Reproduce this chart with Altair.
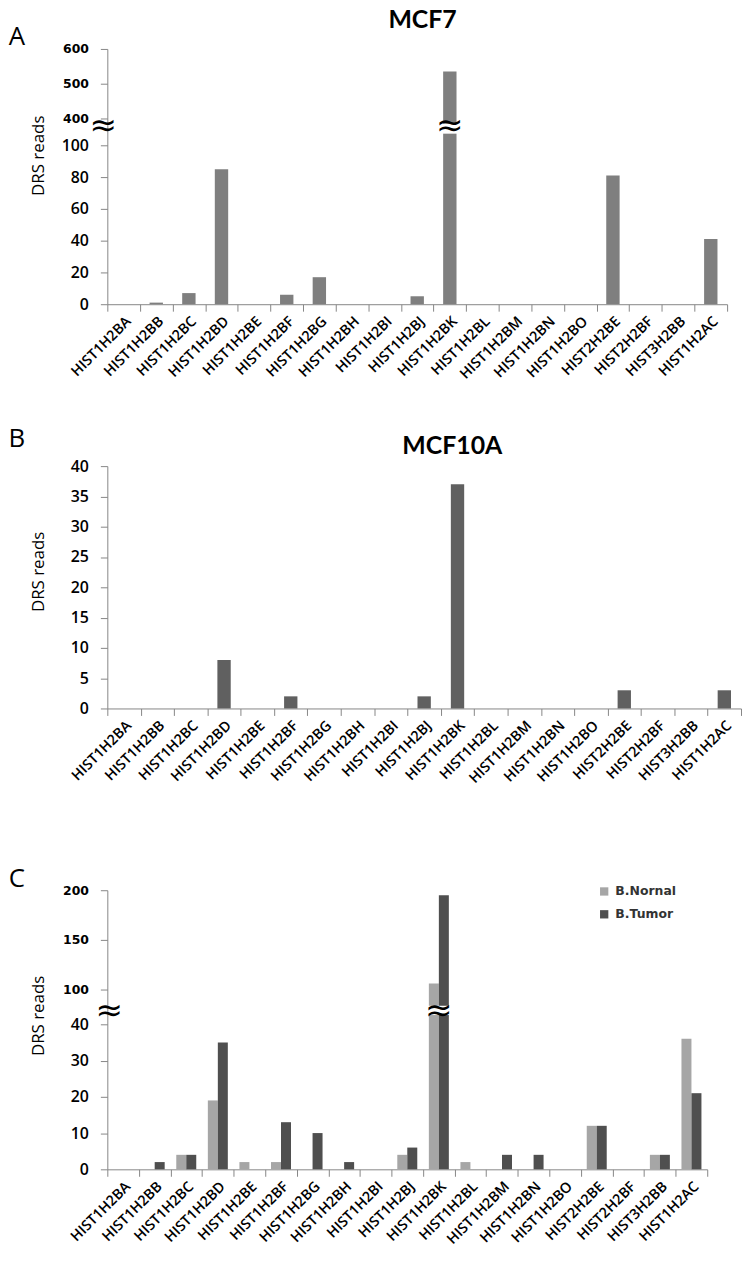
import altair as alt
import pandas as pd

genes = ["HIST1H2BA", "HIST1H2BB", "HIST1H2BC", "HIST1H2BD", "HIST1H2BE",
         "HIST1H2BF", "HIST1H2BG", "HIST1H2BH", "HIST1H2BI", "HIST1H2BJ",
         "HIST1H2BK", "HIST1H2BL", "HIST1H2BM", "HIST1H2BN", "HIST1H2BO",
         "HIST2H2BE", "HIST2H2BF", "HIST3H2BB", "HIST1H2AC"]
mcf7 = [0, 1, 7, 85, 0, 6, 17, 0, 0, 5, 535, 0, 0, 0, 0, 81, 0, 0, 41]
mcf10a = [0, 0, 0, 8, 0, 2, 0, 0, 0, 2, 37, 0, 0, 0, 0, 3, 0, 0, 3]
b_normal = [0, 0, 4, 19, 2, 2, 0, 0, 0, 4, 106, 2, 0, 0, 0, 12, 0, 4, 36]
b_tumor = [0, 2, 4, 35, 0, 13, 10, 2, 0, 6, 195, 0, 4, 4, 0, 12, 0, 4, 21]
groups = ["B.Nornal", "B.Tumor"]

ticks_a = [0, 20, 40, 60, 80, 100, 400, 500, 600]
ticks_b = [0, 5, 10, 15, 20, 25, 30, 35, 40]
ticks_c = [0, 10, 20, 30, 40, 100, 150, 200]
break_a = [100, 400]
break_c = [40, 100]
tall_gene = "HIST1H2BK"

FONT = "Open Sans"
TITLE_FONT = "Lato"
ALT_FONT = "DejaVu Sans"
GRAY = "#868686"

df_a = pd.DataFrame({"gene": genes, "reads": mcf7})
df_b = pd.DataFrame({"gene": genes, "reads": mcf10a})
df_c = pd.DataFrame({
    "gene": genes * 2,
    "group": [groups[0]] * len(genes) + [groups[1]] * len(genes),
    "reads": b_normal + b_tumor,
})


def x_enc():
    return alt.X(
        "gene:N", sort=genes,
        scale=alt.Scale(paddingInner=0, paddingOuter=0),
        axis=alt.Axis(title=None, labelAngle=-45, labelFont=FONT, labelFontSize=14.5,
                      labelFontWeight=600, labelColor="black", tickBand="extent",
                      tickSize=7, tickColor=GRAY, domainColor=GRAY, labelPadding=3,
                      labelLimit=0, labelOverlap=False),
    )


def y_axis(values, split, title_y):
    cond_font = {"condition": {"test": f"datum.value > {split}", "value": ALT_FONT}, "value": FONT}
    cond_size = {"condition": {"test": f"datum.value > {split}", "value": 12.5}, "value": 16}
    cond_weight = {"condition": {"test": f"datum.value > {split}", "value": "bold"}, "value": 600}
    return alt.Axis(values=values, tickCount=40, title="DRS reads", titleFont=FONT,
                    titleFontSize=17, titleFontWeight="normal", titleColor="black",
                    titleX=-60, titleY=title_y, grid=False, tickSize=7, tickColor=GRAY,
                    domainColor=GRAY, labelPadding=12, labelColor="black",
                    labelOverlap=False, labelFont=cond_font, labelFontSize=cond_size,
                    labelFontWeight=cond_weight)


def text_layer(txt, x, y, size, weight="normal", align="center", font=FONT):
    return alt.Chart(pd.DataFrame({"t": [txt]})).mark_text(
        font=font, fontSize=size, fontWeight=weight, align=align,
        baseline="alphabetic", color="black"
    ).encode(text="t:N", x=alt.value(x), y=alt.value(y))


def break_marks(df_gene, dy0, xaxis_px, bar_w, scale):
    wipe = alt.Chart(df_gene).mark_bar(color="white", width=alt.RelativeBandSize(bar_w)).encode(
        x=alt.X("gene:N", sort=genes),
        y=alt.Y("lo:Q", scale=scale),
        y2="hi:Q",
    )
    on_bar = alt.Chart(df_gene).mark_text(
        text="≈", font=ALT_FONT, fontSize=33, baseline="middle", dy=dy0, color="black"
    ).encode(x=alt.X("gene:N", sort=genes), y=alt.Y("mid:Q", scale=scale))
    on_axis = alt.Chart(df_gene).mark_text(
        text="≈", font=ALT_FONT, fontSize=33, baseline="middle", dy=dy0, color="black"
    ).encode(x=alt.value(xaxis_px), y=alt.Y("mid:Q", scale=scale))
    return [wipe, on_bar, on_axis]


# ---------- Panel A ----------
HA = 257
scale_a = alt.Scale(domain=[0, break_a[0], break_a[1], 600], range=[HA, 97, 70, 0], nice=False)
bars_a = alt.Chart(df_a).mark_bar(color="#7f7f7f", width=alt.RelativeBandSize(0.41)).encode(
    x=x_enc(),
    y=alt.Y("reads:Q", scale=scale_a, axis=y_axis(ticks_a, 200, 107)),
)
mid_a = (break_a[0] + break_a[1]) / 2
brk_a = pd.DataFrame({"gene": [tall_gene], "lo": [mid_a - 20], "hi": [mid_a + 90], "mid": [mid_a]})
panel_a = alt.layer(
    bars_a,
    *break_marks(brk_a, -6, -4, 0.6, scale_a),
    text_layer("A", -91, -4, 26),
    text_layer("MCF7", 283, -21, 25, "bold", "left", TITLE_FONT),
).properties(width=624, height=HA)

# ---------- Panel B ----------
HB = 244
bars_b = alt.Chart(df_b).mark_bar(color="#606060", width=alt.RelativeBandSize(0.4)).encode(
    x=x_enc(),
    y=alt.Y("reads:Q", scale=alt.Scale(domain=[0, 40], nice=False),
            axis=y_axis(ticks_b, 1000, 106)),
)
panel_b = alt.layer(
    bars_b,
    text_layer("B", -91, -19, 26),
    text_layer("MCF10A", 297, -12, 25, "bold", "left", TITLE_FONT),
).properties(width=638, height=HB)

# ---------- Panel C ----------
HC = 281
scale_c = alt.Scale(domain=[0, break_c[0], break_c[1], 200], range=[HC, 135, 100, 0], nice=False)
bars_c = alt.Chart(df_c).mark_bar().encode(
    x=x_enc(),
    xOffset=alt.XOffset("group:N", sort=groups,
                        scale=alt.Scale(paddingInner=0, paddingOuter=0.58)),
    y=alt.Y("reads:Q", scale=scale_c, axis=y_axis(ticks_c, 50, 126)),
    color=alt.Color("group:N", sort=groups,
                    scale=alt.Scale(domain=groups, range=["#a6a6a6", "#4f4f4f"]),
                    legend=alt.Legend(title=None, orient="none", legendX=494, legendY=-5,
                                      symbolType="square", symbolSize=70, symbolStrokeWidth=0,
                                      labelFont=ALT_FONT, labelFontSize=12.5,
                                      labelFontWeight="bold", labelColor="#333",
                                      rowPadding=10, labelOffset=5)),
)
mid_c = (break_c[0] + break_c[1]) / 2
brk_c = pd.DataFrame({"gene": [tall_gene], "lo": [mid_c - 14], "hi": [mid_c + 2], "mid": [mid_c]})
spacer_c = alt.Chart(pd.DataFrame({"t": [0]})).mark_rule(opacity=0).encode(
    x=alt.value(0), y=alt.value(-60), y2=alt.value(-50)
)
panel_c = alt.layer(
    bars_c,
    *break_marks(brk_c, 4, 2, 0.75, scale_c),
    text_layer("C", -91, -3, 26),
    spacer_c,
).properties(width=604, height=HC)

chart = alt.vconcat(panel_a, panel_b, panel_c, spacing=45).resolve_scale(
    x="independent", y="independent", color="independent"
).configure_view(stroke=None).properties(
    padding={"top": -4, "left": 0, "right": 0, "bottom": 0}, background="white"
)

chart.save("out.html", embed_options={"renderer": "svg", "actions": False})
